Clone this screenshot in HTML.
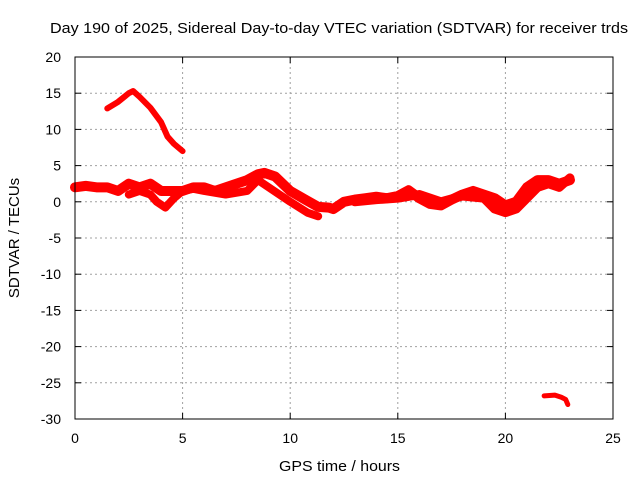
<!DOCTYPE html>
<html><head><meta charset="utf-8"><style>
body{margin:0;background:#fff}
svg{display:block;font-family:"Liberation Sans",sans-serif;font-size:14px}
</style></head><body>
<svg id="chart" width="640" height="480" viewBox="0 0 640 480">
<rect width="640" height="480" fill="#fff"/>
<text x="50" y="33" font-size="15" textLength="578" lengthAdjust="spacingAndGlyphs">Day 190 of 2025, Sidereal Day-to-day VTEC variation (SDTVAR) for receiver trds</text>
<g id="grid"></g>
<g id="series"></g>
<rect x="75" y="57" width="538" height="362" fill="none" stroke="#000" stroke-width="1"/>
<g id="ticks"></g>
<text x="279" y="471" font-size="15" textLength="121" lengthAdjust="spacingAndGlyphs">GPS time / hours</text>
<text transform="translate(19,238) rotate(-90)" text-anchor="middle" font-size="15">SDTVAR / TECUs</text>
</svg>
<script>
const xTicks=[0,5,10,15,20,25];
const yTicks=[20,15,10,5,0,-5,-10,-15,-20,-25,-30];
const arcHours=[1.5,2,2.5,2.7,3,3.5,4,4.3,4.6,5];
const arcValues=[12.9,13.8,15.0,15.3,14.5,13,11,9,8,7];
const mainHours=[0,0.5,1,1.5,2,2.5,3,3.5,4,4.5,5,5.5,6,6.5,7,7.5,8,8.5,8.8,9.3,10,10.7,11.3,11.8,12,12.5,13,13.5,14,14.5,15,15.5,16,16.5,17,17.5,18,18.5,19,19.5,20,20.5,21,21.5,22,22.5,23];
const mainValues=[2,2.2,2,2,1.5,2.5,2,2.5,1.5,1.5,1.5,2,2,1.5,2,2.5,3,3.8,4,3.5,1.5,0.3,-0.7,-0.8,-1,0,0.3,0.5,0.7,0.5,0.8,1.6,0.5,-0.3,-0.5,0.3,1,1.5,1,0.5,-0.5,0,2,3,3,2.5,3];
const lowHours=[2.5,3,3.5,3.8,4.2,4.6,5,5.5,6,7,8,8.5,9,10,10.8,11.3];
const lowValues=[1,1.5,1,0,-0.8,0.5,1.5,1.8,1.5,1,1.5,3,2,0,-1.5,-2];
const lowRightHours=[13,14,15,16,17,18,19,19.5,20,20.5,21,21.5,22,22.5,23];
const lowRightValues=[0,0.3,0.5,1,0,0.8,0.5,-1,-1.5,-1,0.5,2,2.5,2,3.3];
const tailHours=[21.8,22.3,22.6,22.8,22.9];
const tailValues=[-26.8,-26.7,-27,-27.3,-28];
const X0=75,X1=613,Y0=419,Y1=57;
const sx=h=>X0+(h-0)/(25-0)*(X1-X0);
const sy=v=>Y0-(v+30)/(50)*(Y0-Y1);
const NS="http://www.w3.org/2000/svg";
const grid=document.getElementById('grid'),ticks=document.getElementById('ticks'),ser=document.getElementById('series');
function mk(t,a,p){const e=document.createElementNS(NS,t);for(const k in a)e.setAttribute(k,a[k]);p.appendChild(e);return e;}
xTicks.forEach(t=>{const x=sx(t);
 if(t>0&&t<25){const g=mk('line',{x1:x,x2:x,y1:Y0,y2:Y1,stroke:'#a0a0a0','stroke-dasharray':'2,3'},grid);
 
 }
 mk('line',{x1:x,x2:x,y1:Y0,y2:Y0-6,stroke:'#000'},ticks);
 mk('line',{x1:x,x2:x,y1:Y1,y2:Y1+6,stroke:'#000'},ticks);
 const l=mk('text',{x:x,y:443,'text-anchor':'middle'},ticks);l.textContent=t;
 
 });
yTicks.forEach(t=>{const y=sy(t);
 if(t<20&&t>-30){const g=mk('line',{x1:X0,x2:X1,y1:y,y2:y,stroke:'#a0a0a0','stroke-dasharray':'2,3'},grid);
 
 }
 mk('line',{x1:X0,x2:X0+6,y1:y,y2:y,stroke:'#000'},ticks);
 mk('line',{x1:X1,x2:X1-6,y1:y,y2:y,stroke:'#000'},ticks);
 const l=mk('text',{x:61,y:y+5,'text-anchor':'end'},ticks);l.textContent=t;
 
 });
function line(hs,vs,name,w){const p=mk('polyline',{points:hs.map((h,i)=>sx(h)+','+sy(vs[i])).join(' '),fill:'none',stroke:'#ff0000','stroke-width':w,'stroke-linejoin':'round','stroke-linecap':'round'},ser);
 
 }
line(arcHours,arcValues,'series-arc',6);
line(mainHours,mainValues,'series-main',10);
line(lowHours,lowValues,'series-low',8);
line(lowRightHours,lowRightValues,'series-low-right',9);
line(tailHours,tailValues,'series-tail',5);
</script>
</body></html>
